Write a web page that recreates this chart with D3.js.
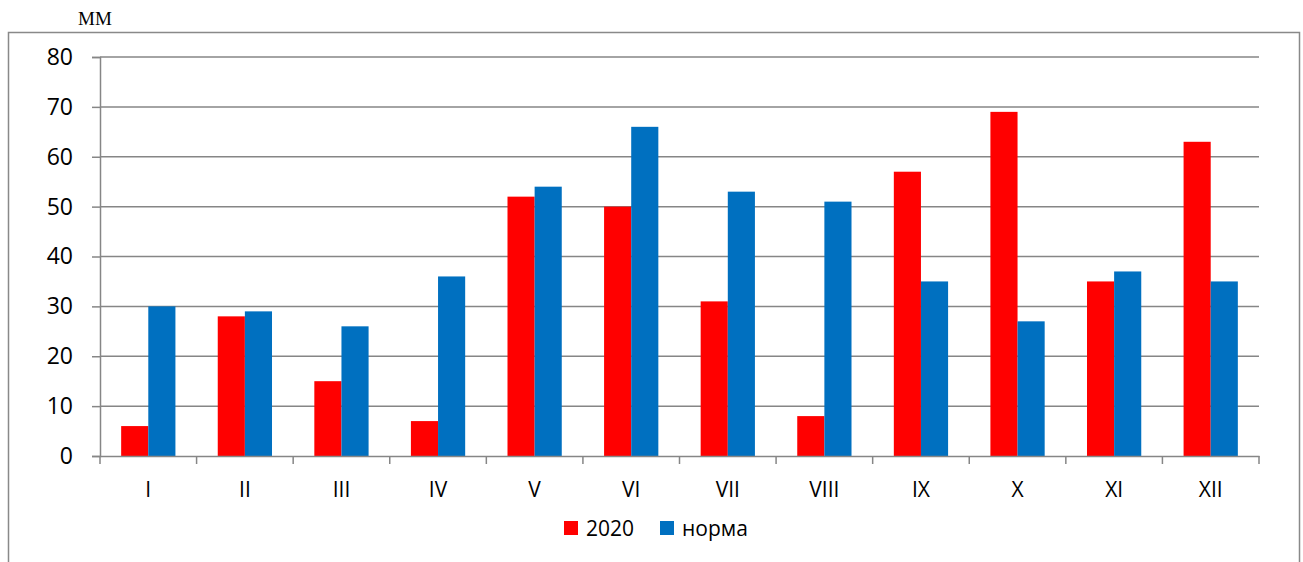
<!DOCTYPE html>
<html>
<head>
<meta charset="utf-8">
<script src="https://cdn.jsdelivr.net/npm/d3@7"></script>
<style>
  html, body { margin: 0; padding: 0; background: #fff; }
  svg { display: block; }
</style>
</head>
<body>
<svg id="chart" width="1303" height="562"></svg>
<script>
const categories = ["I", "II", "III", "IV", "V", "VI", "VII", "VIII", "IX", "X", "XI", "XII"];
const values2020 = [6, 28, 15, 7, 52, 50, 31, 8, 57, 69, 35, 63];
const valuesNorm = [30, 29, 26, 36, 54, 66, 53, 51, 35, 27, 37, 35];
const seriesNames = ["2020", "норма"];
const seriesColors = ["#FF0000", "#0070C0"];
const yTicks = [0, 10, 20, 30, 40, 50, 60, 70, 80];
const unitLabel = "ММ";

const svg = d3.select("#chart");
const font = "'Open Sans', 'Liberation Sans', sans-serif";

const plot = { left: 100, right: 1259, top: 57, bottom: 456 };

// frame
svg.append("rect")
  .attr("x", 8.5).attr("y", 32.5)
  .attr("width", 1291).attr("height", 560)
  .attr("fill", "none").attr("stroke", "#898989").attr("stroke-width", 1.5);

// unit label
svg.append("text")
  .attr("x", 95).attr("y", 25)
  .attr("text-anchor", "middle")
  .attr("font-family", "'Liberation Serif', 'DejaVu Serif', serif")
  .attr("font-size", 19)
  .attr("fill", "#000")
  .text(unitLabel);

const x = d3.scaleBand().domain(categories).range([plot.left, plot.right]).paddingInner(0).paddingOuter(0);
const y = d3.scaleLinear().domain([0, 80]).range([plot.bottom, plot.top]);
const xInner = d3.scaleBand().domain(seriesNames).range([0, x.bandwidth()]).paddingInner(0).paddingOuter(0.78);

// gridlines
svg.append("g").selectAll("line").data(yTicks.filter(d => d > 0)).join("line")
  .attr("x1", plot.left).attr("x2", plot.right)
  .attr("y1", d => y(d)).attr("y2", d => y(d))
  .attr("stroke", "#868686").attr("stroke-width", 1.5);

// y axis
const yAxis = d3.axisLeft(y).tickValues(yTicks).tickSize(8).tickPadding(19).tickFormat(d3.format("d"));
const gy = svg.append("g").attr("transform", `translate(${plot.left},0)`).call(yAxis);
gy.select(".domain").attr("stroke", "#868686").attr("stroke-width", 1.5);
gy.selectAll(".tick line").attr("stroke", "#868686").attr("stroke-width", 1.5);
gy.selectAll(".tick text").attr("font-family", font).attr("font-size", 23).attr("fill", "#000");

// bars
const data = categories.map((c, i) => ({ cat: c, vals: [values2020[i], valuesNorm[i]] }));
const groups = svg.append("g").selectAll("g").data(data).join("g")
  .attr("transform", d => `translate(${x(d.cat)},0)`);
groups.selectAll("rect").data(d => d.vals.map((v, j) => ({ v, s: seriesNames[j], c: seriesColors[j] }))).join("rect")
  .attr("x", d => xInner(d.s))
  .attr("width", xInner.bandwidth())
  .attr("y", d => y(d.v))
  .attr("height", d => y(0) - y(d.v))
  .attr("fill", d => d.c);

// x axis
const xAxis = d3.axisBottom(x).tickSize(0).tickPadding(26);
const gx = svg.append("g").attr("transform", `translate(0,${plot.bottom})`).call(xAxis);
gx.select(".domain").attr("stroke", "#868686").attr("stroke-width", 1.5);
gx.selectAll(".tick text").attr("font-family", font).attr("font-size", 21).attr("fill", "#000");
// boundary ticks between categories
const boundaries = categories.map(c => x(c)).concat([x(categories[categories.length - 1]) + x.bandwidth()]);
gx.append("g").selectAll("line").data(boundaries).join("line")
  .attr("x1", d => d).attr("x2", d => d)
  .attr("y1", 0).attr("y2", 8)
  .attr("stroke", "#868686").attr("stroke-width", 1.5);

// legend
const legend = svg.append("g");
const legendItems = [
  { name: seriesNames[0], color: seriesColors[0], x: 564 },
  { name: seriesNames[1], color: seriesColors[1], x: 660 }
];
legendItems.forEach(it => {
  legend.append("rect").attr("x", it.x).attr("y", 521).attr("width", 14).attr("height", 14).attr("fill", it.color);
  legend.append("text").attr("x", it.x + 22).attr("y", 536)
    .attr("font-family", font).attr("font-size", 21).attr("fill", "#000").text(it.name);
});
</script>
</body>
</html>
